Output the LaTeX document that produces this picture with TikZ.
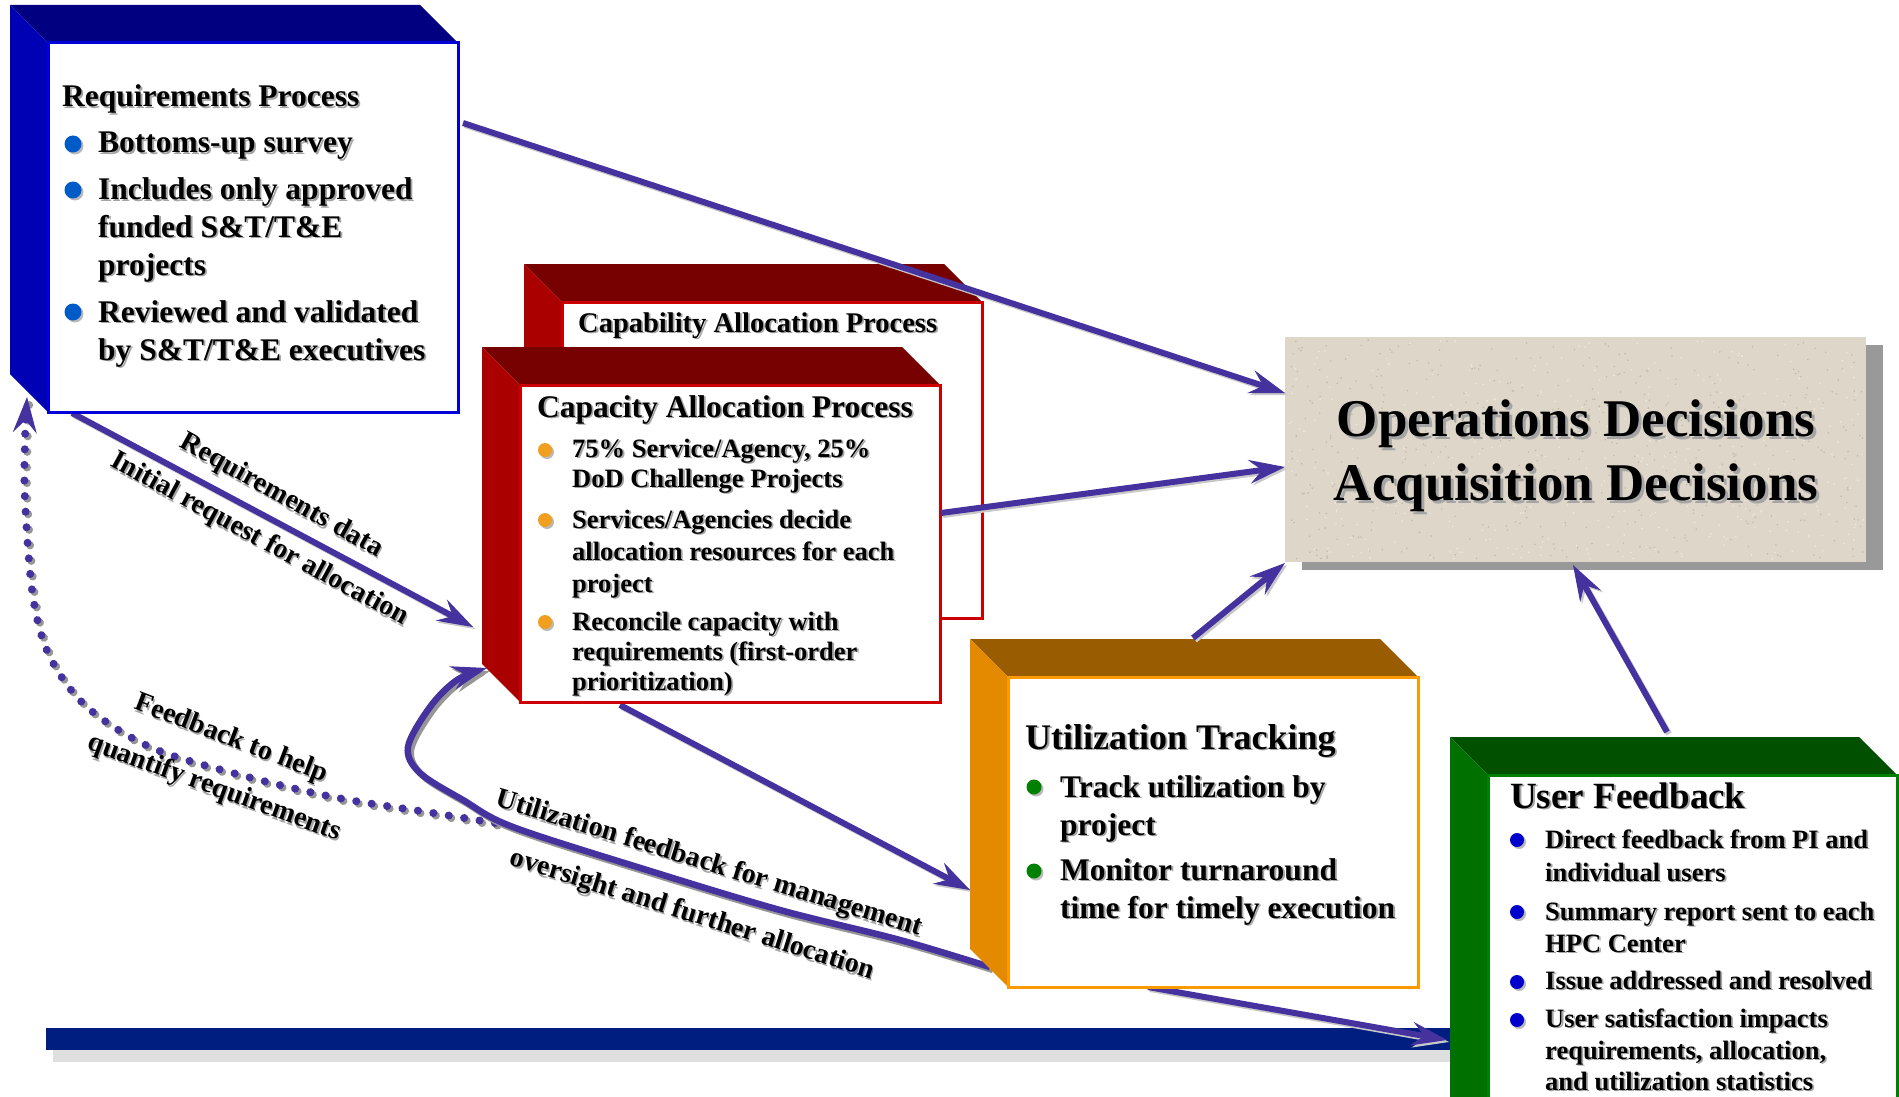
\documentclass[tikz,border=0pt]{standalone}
\usepackage{fontspec}
\setmainfont{Liberation Serif}
\usetikzlibrary{arrows.meta,calc}
\definecolor{arrcol}{RGB}{70,50,158}
\definecolor{reqtop}{RGB}{0,0,128}
\definecolor{reqside}{RGB}{0,0,180}
\definecolor{reqbord}{RGB}{0,0,215}
\definecolor{redtop}{RGB}{119,0,0}
\definecolor{redside}{RGB}{170,0,0}
\definecolor{redbord}{RGB}{204,0,0}
\definecolor{ortop}{RGB}{153,92,0}
\definecolor{orside}{RGB}{228,138,0}
\definecolor{orbord}{RGB}{255,153,0}
\definecolor{grtop}{RGB}{0,80,0}
\definecolor{grside}{RGB}{0,112,0}
\definecolor{grbord}{RGB}{0,128,0}
\definecolor{opsfill}{RGB}{222,214,201}
\definecolor{opsdark}{RGB}{196,186,170}
\definecolor{opslight}{RGB}{238,233,224}
\definecolor{opsshadow}{RGB}{153,153,153}
\definecolor{barcol}{RGB}{0,30,128}
\definecolor{txtsh}{RGB}{165,165,165}
\definecolor{arrsh}{RGB}{200,200,200}
\definecolor{curvesh}{RGB}{150,150,150}
\definecolor{bulblue}{RGB}{0,90,200}
\definecolor{bulorange}{RGB}{240,160,30}
\definecolor{bulgreen}{RGB}{0,128,0}
\definecolor{bulblueb}{RGB}{0,0,204}
\pgfdeclarelayer{bg}
\pgfsetlayers{bg,main}
\newcommand\fntA{\fontsize{31.5}{37}\selectfont\bfseries}
\newcommand\fntB{\fontsize{26.5}{31}\selectfont\bfseries}
\newcommand\fntC{\fontsize{28.5}{33}\selectfont\bfseries}
\newcommand\fntD{\fontsize{36}{42}\selectfont\bfseries}
\newcommand\fntE{\fontsize{37}{43}\selectfont\bfseries}
\newcommand\fntF{\fontsize{53}{62}\selectfont\bfseries}
\newcommand\fntL{\fontsize{28}{33}\selectfont\bfseries}
\newcommand\shtxt[1]{\leavevmode\rlap{\kern1.8pt\raisebox{-1.8pt}{\textcolor{txtsh}{#1}}}#1}
\newcommand\shtxtb[1]{\leavevmode\rlap{\kern3pt\raisebox{-3pt}{\textcolor{txtsh}{#1}}}#1}
\newcommand\txtline[5]{\node[anchor=base west,inner sep=0pt,font=#4] (#1) at (#2,#3) {\shtxt{#5}};}
\newcommand\bul[4]{\fill[gray!55] (#1+2,#2+2) circle (#3); \fill[#4] (#1,#2) circle (#3);}
\newcommand\boxthreed[8]{%
  \fill[#6] (#2-38,#3-38) -- (#4-38,#3-38) -- (#4,#3) -- (#2,#3) -- cycle;
  \fill[#7] (#2-38,#3-38) -- (#2,#3) -- (#2,#5) -- (#2-38,#5-38) -- cycle;
  \node[draw=#8,fill=white,line width=3pt,minimum width=#4-#2,minimum height=#5-#3,anchor=north west,inner sep=0pt,outer sep=0pt] (#1) at (#2,#3) {};}
\tikzset{
  tipA/.style={-{Stealth[length=36pt,width=24pt,inset=13pt,line width=1pt]}},
  arr/.style={draw=arrcol,line width=6pt,tipA},
  arrshadow/.style={draw=arrsh,line width=6pt,tipA,transform canvas={shift={(2pt,-2pt)}}},
  curv/.style={draw=arrcol,line width=6.5pt,tipA},
  curvshadow/.style={draw=curvesh,line width=6.5pt,tipA,transform canvas={shift={(3pt,-3pt)}}},
  dots/.style={draw=arrcol,line width=8pt,line cap=round,dash pattern=on 0.1pt off 15.5pt,tipA},
  dotsshadow/.style={draw=curvesh,line width=8pt,line cap=round,dash pattern=on 0.1pt off 15.5pt,transform canvas={shift={(2.5pt,-2.5pt)}}},
  lab/.style={font=\fntL,inner sep=0pt,anchor=center}
}
\begin{document}
\begin{tikzpicture}[x=1pt,y=-1pt]
\useasboundingbox (0,0) rectangle (1899,1097);
\clip (0,0) rectangle (1899,1097);

% ---------- boxes ----------
\boxthreed{req}{48}{43}{458}{412}{reqtop}{reqside}{reqbord}
\boxthreed{capb}{562}{302}{982}{618}{redtop}{redside}{redbord}
\txtline{cb0}{578}{332}{\fntC}{Capability Allocation Process}
\boxthreed{cap}{520}{385}{940}{702}{redtop}{redside}{redbord}
\boxthreed{util}{1008}{677}{1418}{987}{ortop}{orside}{orbord}
\boxthreed{ufb}{1488}{775}{1897}{1200}{grtop}{grside}{grbord}

% operations box
\fill[opsshadow] (1302,345) rectangle (1883,570);
\node[fill=opsfill,minimum width=581,minimum height=225,anchor=north west,inner sep=0pt,outer sep=0pt] (ops) at (1285,337) {};
\pgfmathsetseed{42}
\foreach \i in {1,...,500}{
  \pgfmathsetmacro\xx{1288+575*rnd}
  \pgfmathsetmacro\yy{340+219*rnd}
  \fill[opsdark] (\xx,\yy) circle (0.9);
}
\foreach \i in {1,...,400}{
  \pgfmathsetmacro\xx{1288+575*rnd}
  \pgfmathsetmacro\yy{340+219*rnd}
  \fill[opslight] (\xx,\yy) circle (0.9);
}
\node[anchor=base,inner sep=0pt,font=\fntF] (ops1) at (1576,436) {\shtxtb{Operations Decisions}};
\node[anchor=base,inner sep=0pt,font=\fntF] (ops2) at (1576,500) {\shtxtb{Acquisition Decisions}};

% ---------- texts ----------
\txtline{rq0}{62}{107}{\fntA}{Requirements Process}
\txtline{rq1}{98}{153}{\fntA}{Bottoms-up survey}
\txtline{rq2}{98}{200}{\fntA}{Includes only approved}
\txtline{rq3}{98}{237}{\fntA}{funded S\&T/T\&E}
\txtline{rq4}{98}{275}{\fntA}{projects}
\txtline{rq5}{98}{322}{\fntA}{Reviewed and validated}
\txtline{rq6}{98}{360}{\fntA}{by S\&T/T\&E executives}
\bul{73}{144}{8.5}{bulblue}
\bul{73}{190}{8.5}{bulblue}
\bul{73}{312}{8.5}{bulblue}

\txtline{cp0}{537}{417}{\fntA}{Capacity Allocation Process}
\txtline{cp1}{572}{457}{\fntB}{75\% Service/Agency, 25\%}
\txtline{cp2}{572}{487}{\fntB}{DoD Challenge Projects}
\txtline{cp3}{572}{528}{\fntB}{Services/Agencies decide}
\txtline{cp4}{572}{560}{\fntB}{allocation resources for each}
\txtline{cp5}{572}{592}{\fntB}{project}
\txtline{cp6}{572}{630}{\fntB}{Reconcile capacity with}
\txtline{cp7}{572}{660}{\fntB}{requirements (first-order}
\txtline{cp8}{572}{690}{\fntB}{prioritization)}
\bul{545}{450}{7}{bulorange}
\bul{545}{520}{7}{bulorange}
\bul{545}{622}{7}{bulorange}

\txtline{ut0}{1025}{749}{\fntD}{Utilization Tracking}
\txtline{ut1}{1060}{797}{\fntA}{Track utilization by}
\txtline{ut2}{1060}{835}{\fntA}{project}
\txtline{ut3}{1060}{880}{\fntA}{Monitor turnaround}
\txtline{ut4}{1060}{918}{\fntA}{time for timely execution}
\bul{1034}{787}{7.5}{bulgreen}
\bul{1034}{871}{7.5}{bulgreen}

\txtline{uf0}{1510}{808}{\fntE}{User Feedback}
\txtline{uf1}{1545}{848}{\fntB}{Direct feedback from PI and}
\txtline{uf2}{1545}{881}{\fntB}{individual users}
\txtline{uf3}{1545}{920}{\fntB}{Summary report sent to each}
\txtline{uf4}{1545}{952}{\fntB}{HPC Center}
\txtline{uf5}{1545}{989}{\fntB}{Issue addressed and resolved}
\txtline{uf6}{1545}{1027}{\fntB}{User satisfaction impacts}
\txtline{uf7}{1545}{1059}{\fntB}{requirements, allocation,}
\txtline{uf8}{1545}{1090}{\fntB}{and utilization statistics}
\bul{1517}{840}{7}{bulblueb}
\bul{1517}{912}{7}{bulblueb}
\bul{1517}{982}{7}{bulblueb}
\bul{1517}{1020}{7}{bulblueb}

% ---------- connector end points ----------
\coordinate (a1s) at ($(req.north east)+(5,80)$);
\coordinate (a1e) at ($(ops.north west)+(0,56)$);
\coordinate (a2s) at ($(cap.north east)+(1,128)$);
\coordinate (a2e) at ($(ops.north west)+(0,130)$);
\coordinate (a3s) at ($(util.north west)+(185,-39)$);
\coordinate (a3e) at ($(ops.south west)+(0,1)$);
\coordinate (a4s) at ($(ufb.north west)+(179,-43)$);
\coordinate (a4e) at ($(ops.south west)+(288,3)$);
\coordinate (a5s) at ($(req.south west)+(24,1)$);
\coordinate (a5e) at ($(cap.north west)+(-47,242)$);
\coordinate (a6s) at ($(cap.south west)+(100,3)$);
\coordinate (a6e) at ($(util.north west)+(-38,213)$);
\coordinate (a7s) at ($(util.south west)+(140,0)$);
\coordinate (a7e) at ($(ufb.north west)+(-41,265)$);
\coordinate (a8s) at ($(util.south west)+(-18,-20)$);
\coordinate (a8e) at ($(cap.south west)+(-33,-34)$);
\coordinate (a9s) at (495,823);
\coordinate (a9e) at ($(req.south west)+(-21,-15)$);

% ---------- background layer ----------
\begin{pgfonlayer}{bg}
  \fill[white] (0,0) rectangle (1899,1097);
  \fill[barcol] (46,1028) rectangle (1470,1050);
  \fill[gray!25] (53,1050) rectangle (1470,1062);
  % dotted feedback
  \draw[dotsshadow] plot[smooth,tension=0.55] coordinates {(a9s) (433,813) (333,797) (233,773) (150,747) (87,707) (50,657) (33,597) (25,500) (25,440) (a9e)};
  \draw[dots] plot[smooth,tension=0.55] coordinates {(a9s) (433,813) (333,797) (233,773) (150,747) (87,707) (50,657) (33,597) (25,500) (25,440) (a9e)};
  % utilization feedback curve
  \draw[curvshadow] plot[smooth,tension=0.55] coordinates {(a8s) (900,940) (780,910) (647,870) (513,827) (463,800) (420,773) (408,747) (430,707) (457,680) (a8e)};
  \draw[curv] plot[smooth,tension=0.55] coordinates {(a8s) (900,940) (780,910) (647,870) (513,827) (463,800) (420,773) (408,747) (430,707) (457,680) (a8e)};
  \draw[arrshadow] (a5s) -- (a5e);
  \draw[arr] (a5s) -- (a5e);
  \draw[arrshadow] (a6s) -- (a6e);
  \draw[arr] (a6s) -- (a6e);
  \draw[arrshadow] (a7s) -- (a7e);
  \draw[arr] (a7s) -- (a7e);
\end{pgfonlayer}

% ---------- arrows on top ----------
\draw[arrshadow] (a1s) -- (a1e);
\draw[arr] (a1s) -- (a1e);
\draw[arrshadow] (a2s) -- (a2e);
\draw[arr] (a2s) -- (a2e);
\draw[arrshadow] (a3s) -- (a3e);
\draw[arr] (a3s) -- (a3e);
\draw[arrshadow] (a4s) -- (a4e);
\draw[arr] (a4s) -- (a4e);

% ---------- labels ----------
\node[lab,rotate=-29] (l1) at (281,497) {\shtxt{Requirements data}};
\node[lab,rotate=-28.5] (l2) at (259,540) {\shtxt{Initial request for allocation}};
\node[lab,rotate=-21] (l3) at (231,740) {\shtxt{Feedback to help}};
\node[lab,rotate=-20] (l4) at (214,789) {\shtxt{quantify requirements}};
\node[lab,rotate=-17] (l5) at (709,865) {\shtxt{Utilization feedback for management}};
\node[lab,rotate=-17.5] (l6) at (692,916) {\shtxt{oversight and further allocation}};
\end{tikzpicture}
\end{document}
